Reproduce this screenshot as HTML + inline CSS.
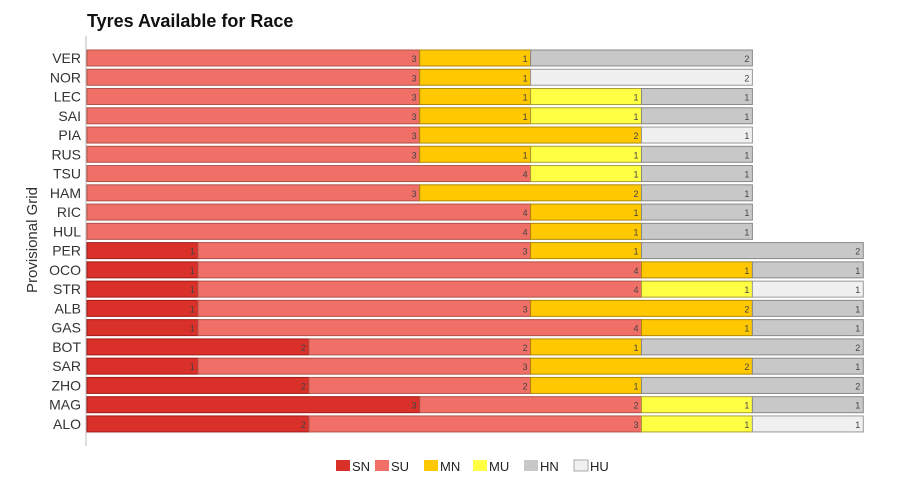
<!DOCTYPE html><html><head><meta charset="utf-8"><style>
body{margin:0;width:900px;height:481px;background:#fff;overflow:hidden;font-family:"Liberation Sans",sans-serif}
</style></head><body>
<svg width="900" height="481" xmlns="http://www.w3.org/2000/svg" font-family="Liberation Sans, sans-serif">
<text x="87" y="27" font-size="18" font-weight="bold" fill="#111">Tyres Available for Race</text>
<line x1="86" y1="36" x2="86" y2="446" stroke="#bbb"/>
<text transform="translate(37,240) rotate(-90)" text-anchor="middle" font-size="15" fill="#333">Provisional Grid</text>
<g id="g"></g>
<g font-size="13" fill="#222">
<rect x="336" y="460" width="14" height="11" fill="#d9302a"/><text x="352" y="471">SN</text>
<rect x="375" y="460" width="14" height="11" fill="#f07068"/><text x="391" y="471">SU</text>
<rect x="424" y="460" width="14" height="11" fill="#ffc800"/><text x="440" y="471">MN</text>
<rect x="473" y="460" width="14" height="11" fill="#ffff44"/><text x="489" y="471">MU</text>
<rect x="524" y="460" width="14" height="11" fill="#c8c8c8"/><text x="540" y="471">HN</text>
<rect x="574" y="460" width="14" height="11" fill="#f0f0f0" stroke="#aaa"/><text x="590" y="471">HU</text>
</g>
</svg>
<script>
const C={SN:["#d9302a","#a01c18"],SU:["#f07068","#b05048"],MN:["#ffc800","#b08a00"],MU:["#ffff44","#aaa030"],HN:["#c8c8c8","#888"],HU:["#f0f0f0","#999"]};
const D=[["VER","SU3 MN1 HN2"],["NOR","SU3 MN1 HU2"],["LEC","SU3 MN1 MU1 HN1"],["SAI","SU3 MN1 MU1 HN1"],["PIA","SU3 MN2 HU1"],["RUS","SU3 MN1 MU1 HN1"],["TSU","SU4 MU1 HN1"],["HAM","SU3 MN2 HN1"],["RIC","SU4 MN1 HN1"],["HUL","SU4 MN1 HN1"],["PER","SN1 SU3 MN1 HN2"],["OCO","SN1 SU4 MN1 HN1"],["STR","SN1 SU4 MU1 HU1"],["ALB","SN1 SU3 MN2 HN1"],["GAS","SN1 SU4 MN1 HN1"],["BOT","SN2 SU2 MN1 HN2"],["SAR","SN1 SU3 MN2 HN1"],["ZHO","SN2 SU2 MN1 HN2"],["MAG","SN3 SU2 MU1 HN1"],["ALO","SN2 SU3 MU1 HU1"]];
const U=110.9,X0=87;let s="";
D.forEach((r,i)=>{const y=50+i*19.26;let x=X0;
s+=`<text x="81" y="${y+13}" text-anchor="end" font-size="14" fill="#333">${r[0]}</text>`;
r[1].split(" ").forEach(t=>{const k=t.slice(0,2),n=+t.slice(2),w=n*U,c=C[k];
s+=`<rect x="${x}" y="${y}" width="${w}" height="16" fill="${c[0]}" stroke="${c[1]}" stroke-width="1"/>`;
s+=`<text x="${x+w-3}" y="${y+12}" text-anchor="end" font-size="9" fill="#444">${n}</text>`;x+=w;});});
document.getElementById("g").innerHTML=s;
</script>
</body></html>
